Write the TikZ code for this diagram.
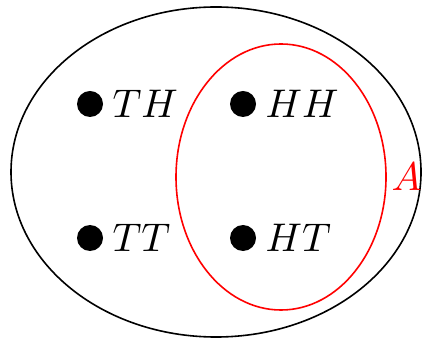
\documentclass[tikz,border=0pt]{standalone}
\usepackage{amsmath, amssymb}
\usepackage{xcolor}
\usepackage{tikz}
\usetikzlibrary{arrows.meta, positioning, shapes.geometric}

\begin{document}
\begin{tikzpicture}[
    pt/.style={circle, fill=black, inner sep=0pt, minimum size=6.5pt},
    lbl/.style={anchor=west, inner sep=2pt},
    oval/.style={ellipse, draw, inner sep=0pt},
    x=0.25pt, y=-0.25pt
  ]
  \useasboundingbox (0,0) rectangle (424,339);
  % sample space
  \node[oval, minimum width=102.5pt, minimum height=82.5pt] (omega) at (216,172) {};
  % event A
  \node[oval, red, minimum width=52.5pt, minimum height=66.5pt] (ev) at (281,177) {};
  \node[red, anchor=west, inner sep=1pt] (A) at (ev.east) {$A$};
  % outcomes
  \foreach \n/\x/\y/\t in {th/90/104/TH, hh/243/104/HH, tt/90/238/TT, ht/243/238/HT} {
    \node[pt] (\n) at (\x,\y) {};
    \node[lbl] (\n-l) at (\n.east) {$\t$};
  }
\end{tikzpicture}
\end{document}
